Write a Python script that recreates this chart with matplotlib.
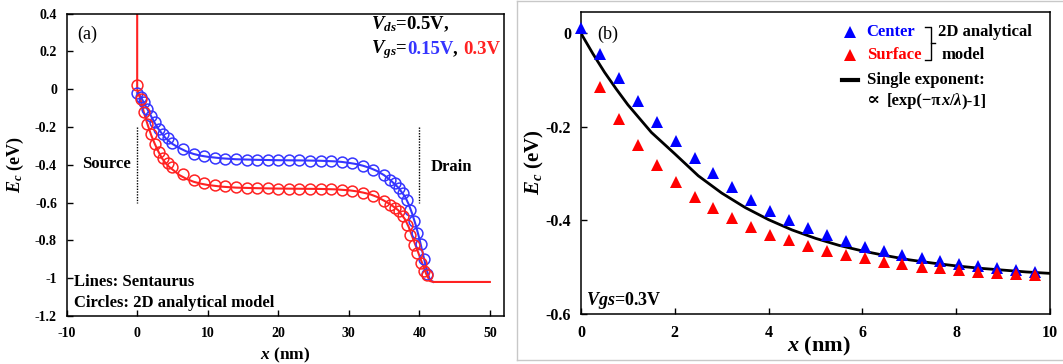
import numpy as np
import matplotlib
matplotlib.use("Agg")
import matplotlib.pyplot as plt
from matplotlib.lines import Line2D
from matplotlib.offsetbox import TextArea, HPacker, AnnotationBbox

plt.rcParams['font.family'] = ['Liberation Serif', 'DejaVu Serif']
plt.rcParams['font.weight'] = 'bold'
plt.rcParams['axes.unicode_minus'] = False
plt.rcParams['mathtext.fontset'] = 'custom'
plt.rcParams['mathtext.rm'] = 'Liberation Serif:bold'
plt.rcParams['mathtext.it'] = 'Liberation Serif:italic:bold'
plt.rcParams['mathtext.bf'] = 'Liberation Serif:bold'

BLUE_C = '#3535ff'
RED_C = '#ff2222'

# ---- (a) conduction band along the channel, Vds = 0.5 V ----
# Sentaurus curves
sent_x_015 = [0, 0.5, 1, 1.5, 2, 2.5, 3, 3.5, 4, 4.5, 5, 6, 7, 8, 9, 10, 12, 14, 17, 20,
              23, 26, 28, 29, 30, 31, 32, 33, 34, 35, 36, 37, 38, 38.5, 39, 39.5, 40,
              40.5, 41, 41.5, 42]
sent_y_015 = [-0.02, -0.04, -0.075, -0.11, -0.145, -0.18, -0.21, -0.235, -0.258, -0.275,
              -0.29, -0.312, -0.33, -0.343, -0.352, -0.358, -0.366, -0.371, -0.374, -0.376,
              -0.377, -0.379, -0.382, -0.385, -0.39, -0.396, -0.405, -0.417, -0.433, -0.455,
              -0.485, -0.52, -0.57, -0.61, -0.66, -0.72, -0.79, -0.87, -0.95, -1.01, -1.02]
sent_x_03 = [0, 0, 0.5, 1, 1.5, 2, 2.5, 3, 3.5, 4, 4.5, 5, 6, 7, 8, 9, 10, 12, 14, 17, 20,
             23, 26, 28, 30, 31, 32, 33, 34, 35, 36, 37, 38, 38.5, 39, 39.5, 40, 40.5, 41,
             41.5, 42, 50]
sent_y_03 = [0.45, 0.0, -0.06, -0.13, -0.19, -0.245, -0.29, -0.33, -0.365, -0.39, -0.41,
             -0.425, -0.455, -0.475, -0.49, -0.5, -0.507, -0.516, -0.521, -0.524, -0.526,
             -0.527, -0.528, -0.53, -0.535, -0.54, -0.547, -0.556, -0.57, -0.59, -0.612,
             -0.64, -0.69, -0.73, -0.78, -0.83, -0.88, -0.93, -0.98, -1.015, -1.02, -1.02]

# 2D analytical model (circles)
model_x = [0, 0.5, 0.95, 1.45, 1.95, 2.5, 3.05, 3.65, 4.3, 5.0, 6.5, 8.0, 9.5, 11.0, 12.5,
           14.0, 15.5, 17.0, 18.5, 20.0, 21.5, 23.0, 24.5, 26.0, 27.5, 29.0, 30.5, 32.0,
           33.5, 35.0, 35.8, 36.5, 37.1, 37.7, 38.2, 38.7, 39.2, 39.7, 40.2, 40.7, 41.1]
model_y_015 = [-0.02, -0.04, -0.07, -0.105, -0.14, -0.175, -0.21, -0.235, -0.26, -0.283,
               -0.318, -0.342, -0.355, -0.363, -0.368, -0.372, -0.374, -0.375, -0.376,
               -0.376, -0.377, -0.377, -0.378, -0.379, -0.381, -0.385, -0.392, -0.405,
               -0.43, -0.453, -0.479, -0.497, -0.523, -0.55, -0.585, -0.64, -0.70, -0.76,
               -0.82, -0.90, -0.98]
model_y_03 = [0.02, -0.05, -0.12, -0.185, -0.24, -0.29, -0.33, -0.365, -0.39, -0.41,
              -0.45, -0.48, -0.498, -0.508, -0.515, -0.52, -0.522, -0.524, -0.525, -0.526,
              -0.526, -0.526, -0.527, -0.528, -0.53, -0.533, -0.54, -0.55, -0.567, -0.594,
              -0.611, -0.629, -0.647, -0.673, -0.717, -0.77, -0.823, -0.867, -0.92, -0.96,
              -0.985]

a_xticks = [-10, 0, 10, 20, 30, 40, 50]
a_yticks = [0.4, 0.2, 0, -0.2, -0.4, -0.6, -0.8, -1, -1.2]
a_ylabels = ['0.4', '0.2', '0', '-0.2', '-0.4', '-0.6', '-0.8', '-1', '-1.2']

# ---- (b) near-source profile, Vgs = 0.3 V ----
tri_x = [0, 0.40, 0.81, 1.21, 1.61, 2.02, 2.42, 2.82, 3.22, 3.63, 4.03, 4.43, 4.84, 5.24,
         5.64, 6.05, 6.45, 6.85, 7.26, 7.66, 8.06, 8.46, 8.87, 9.27, 9.67]
center_y = [0.011, -0.043, -0.095, -0.145, -0.189, -0.230, -0.266, -0.300, -0.328, -0.356,
            -0.380, -0.400, -0.417, -0.432, -0.444, -0.457, -0.466, -0.475, -0.482, -0.488,
            -0.494, -0.498, -0.503, -0.507, -0.511]
surf_x = tri_x[1:]
surf_y = [-0.114, -0.183, -0.239, -0.282, -0.319, -0.350, -0.375, -0.395, -0.414, -0.431,
          -0.443, -0.455, -0.466, -0.475, -0.482, -0.489, -0.494, -0.500, -0.503, -0.507,
          -0.511, -0.513, -0.516, -0.518]
exp_x = [0, 0.25, 0.5, 0.75, 1, 1.5, 2, 2.5, 3, 3.5, 4, 4.5, 5, 5.5, 6, 6.5, 7, 7.5, 8,
         8.5, 9, 9.5, 10]
exp_y = [0, -0.043, -0.083, -0.119, -0.153, -0.212, -0.258, -0.305, -0.342, -0.373, -0.399,
         -0.421, -0.439, -0.454, -0.466, -0.476, -0.485, -0.492, -0.498, -0.503, -0.507,
         -0.511, -0.514]

b_xticks = [0, 2, 4, 6, 8, 10]
b_yticks = [0, -0.2, -0.4, -0.6]
b_ylabels = ['0', '-0.2', '-0.4', '-0.6']

fig = plt.figure(figsize=(10.63, 3.64), dpi=100)
ax1 = fig.add_axes([0.0627, 0.1319, 0.4114, 0.831])
ax2 = fig.add_axes([0.5466, 0.1387, 0.4412, 0.8291])


def style_axes(ax, fs):
    for s in ax.spines.values():
        s.set_linewidth(1.1)
    ax.tick_params(direction='in', length=4, width=1.0, top=False, right=False,
                   labelsize=fs)
    ax.tick_params(axis='y', pad=7)
    ax.tick_params(axis='x', pad=8)


def rich_line(ax, xy, parts, fs, coords='data'):
    # parts: (text, colour, extra text props)
    boxes = []
    for s, c, extra in parts:
        props = dict(color=c, fontsize=fs, fontweight='bold')
        props.update(extra)
        boxes.append(TextArea(s, textprops=props))
    pack = HPacker(children=boxes, align='baseline', pad=0, sep=0)
    ab = AnnotationBbox(pack, xy, xycoords=coords, box_alignment=(0, 0.5),
                        frameon=False, pad=0)
    ax.add_artist(ab)


# panel (a)
ax1.plot(sent_x_015, sent_y_015, color=BLUE_C, lw=1.5, zorder=2)
ax1.plot(model_x, model_y_015, 'o', mfc='none', mec=BLUE_C, ms=7.8, mew=1.1, zorder=3)
ax1.plot(sent_x_03, sent_y_03, color=RED_C, lw=1.5, zorder=2)
ax1.plot(model_x, model_y_03, 'o', mfc='none', mec=RED_C, ms=7.8, mew=1.1, zorder=3)
ax1.plot([0, 0], [-0.2, -0.6], color='black', lw=1.0, ls=(0, (1, 1)))
ax1.plot([40, 40], [-0.2, -0.6], color='black', lw=1.0, ls=(0, (1, 1)))
ax1.set_xlim(-10, 52)
ax1.set_ylim(-1.2, 0.4)
ax1.set_xticks(a_xticks)
ax1.set_yticks(a_yticks)
ax1.set_yticklabels(a_ylabels)
style_axes(ax1, 10)
ax1.set_xlabel(r'$x$ (nm)', fontsize=12.5, fontweight='bold')
ax1.set_ylabel(r'$E_c$ (eV)', fontsize=13, fontweight='bold')
ax1.xaxis.set_label_coords(0.499, -0.100)
ax1.yaxis.set_label_coords(-0.092, 0.5)

ax1.text(-7.1, 0.289, '(a)', fontsize=13, fontweight='normal', ha='center', va='center')
ax1.text(-4.3, -0.394, 'Source', fontsize=12, ha='center', va='center')
ax1.text(44.5, -0.413, 'Drain', fontsize=12, ha='center', va='center')
ax1.text(-8.9, -1.022, 'Lines: Sentaurus', fontsize=12, ha='left', va='center')
ax1.text(-8.9, -1.133, 'Circles: 2D analytical model', fontsize=12, ha='left', va='center')

rich_line(ax1, (33.1, 0.344), [(r'$V_{ds}$=0.5V,', 'black', {})], 13.5)
rich_line(ax1, (33.1, 0.208), [(r'$V_{gs}$=', 'black', {}), ('0.15V', BLUE_C, {}),
                               (', ', 'black', {}), ('0.3V', RED_C, {})], 13.5)

# panel (b)
ax2.plot(exp_x, exp_y, color='black', lw=2.0, zorder=2)
ax2.plot(tri_x, center_y, '^', color='#0000ff', ms=9, mew=0, zorder=3, clip_on=False)
ax2.plot(surf_x, surf_y, '^', color='#ff0000', ms=9, mew=0, zorder=4)
ax2.set_xlim(0, 10)
ax2.set_ylim(-0.6, 0.0465)
ax2.set_xticks(b_xticks)
ax2.set_yticks(b_yticks)
ax2.set_yticklabels(b_ylabels)
style_axes(ax2, 11.5)
ax2.set_xlabel(r'$x$ (nm)', fontsize=16, fontweight='bold')
ax2.set_ylabel(r'$E_c$ (eV)', fontsize=15, fontweight='bold')
ax2.xaxis.set_label_coords(0.507, -0.072)
ax2.yaxis.set_label_coords(-0.074, 0.5)

ax2.text(0.58, -0.003, '(b)', fontsize=13, fontweight='normal', ha='center', va='center')
ax2.text(0.1, -0.573, r'$Vgs$=0.3V', fontsize=13, ha='left', va='center')

# hand-drawn key
tr = ax2.transAxes
ax2.plot([0.5736], [0.932], '^', color='#0000ff', ms=9, mew=0, transform=tr)
ax2.plot([0.5736], [0.8565], '^', color='#ff0000', ms=9, mew=0, transform=tr)
ax2.add_line(Line2D([0.556, 0.591], [0.774, 0.774], color='black', lw=3, transform=tr))
ax2.text(0.609, 0.932, 'Center', color='#0000ff', fontsize=12, ha='left', va='center',
         transform=tr)
ax2.text(0.609, 0.8565, 'Surface', color='#ff0000', fontsize=12, ha='left', va='center',
         transform=tr)
ax2.add_line(Line2D([0.7335, 0.7456, 0.7456, 0.7335], [0.950, 0.950, 0.840, 0.840],
                    color='black', lw=1.0, transform=tr))
ax2.add_line(Line2D([0.7456, 0.7548], [0.896, 0.896], color='black', lw=1.0, transform=tr))
ax2.text(0.7619, 0.932, '2D analytical', fontsize=12, ha='left', va='center', transform=tr)
ax2.text(0.769, 0.8565, 'model', fontsize=12, ha='left', va='center', transform=tr)
ax2.text(0.609, 0.774, 'Single exponent:', fontsize=12, ha='left', va='center',
         transform=tr)
ital = {'style': 'italic'}
rich_line(ax2, (0.609, 0.7075),
          [('\u221d ', 'black', {'family': 'DejaVu Serif', 'fontsize': 14}),
           ('[exp(\u2212\u03c0', 'black', {}), ('x', 'black', ital), ('/', 'black', {}),
           ('\u03bb', 'black', ital), (')-1]', 'black', {})], 12, coords=tr)

# light frame around panel (b)
gray = '#c8c8c8'
fig.add_artist(Line2D([517 / 1063, 517 / 1063], [1 - 1 / 364, 1 - 360 / 364],
                      color=gray, lw=1.0, transform=fig.transFigure))
fig.add_artist(Line2D([517 / 1063, 1.0], [1 - 1 / 364, 1 - 1 / 364],
                      color=gray, lw=1.0, transform=fig.transFigure))
fig.add_artist(Line2D([517 / 1063, 1.0], [1 - 360 / 364, 1 - 360 / 364],
                      color=gray, lw=1.0, transform=fig.transFigure))

fig.savefig('out.png', dpi=100)
